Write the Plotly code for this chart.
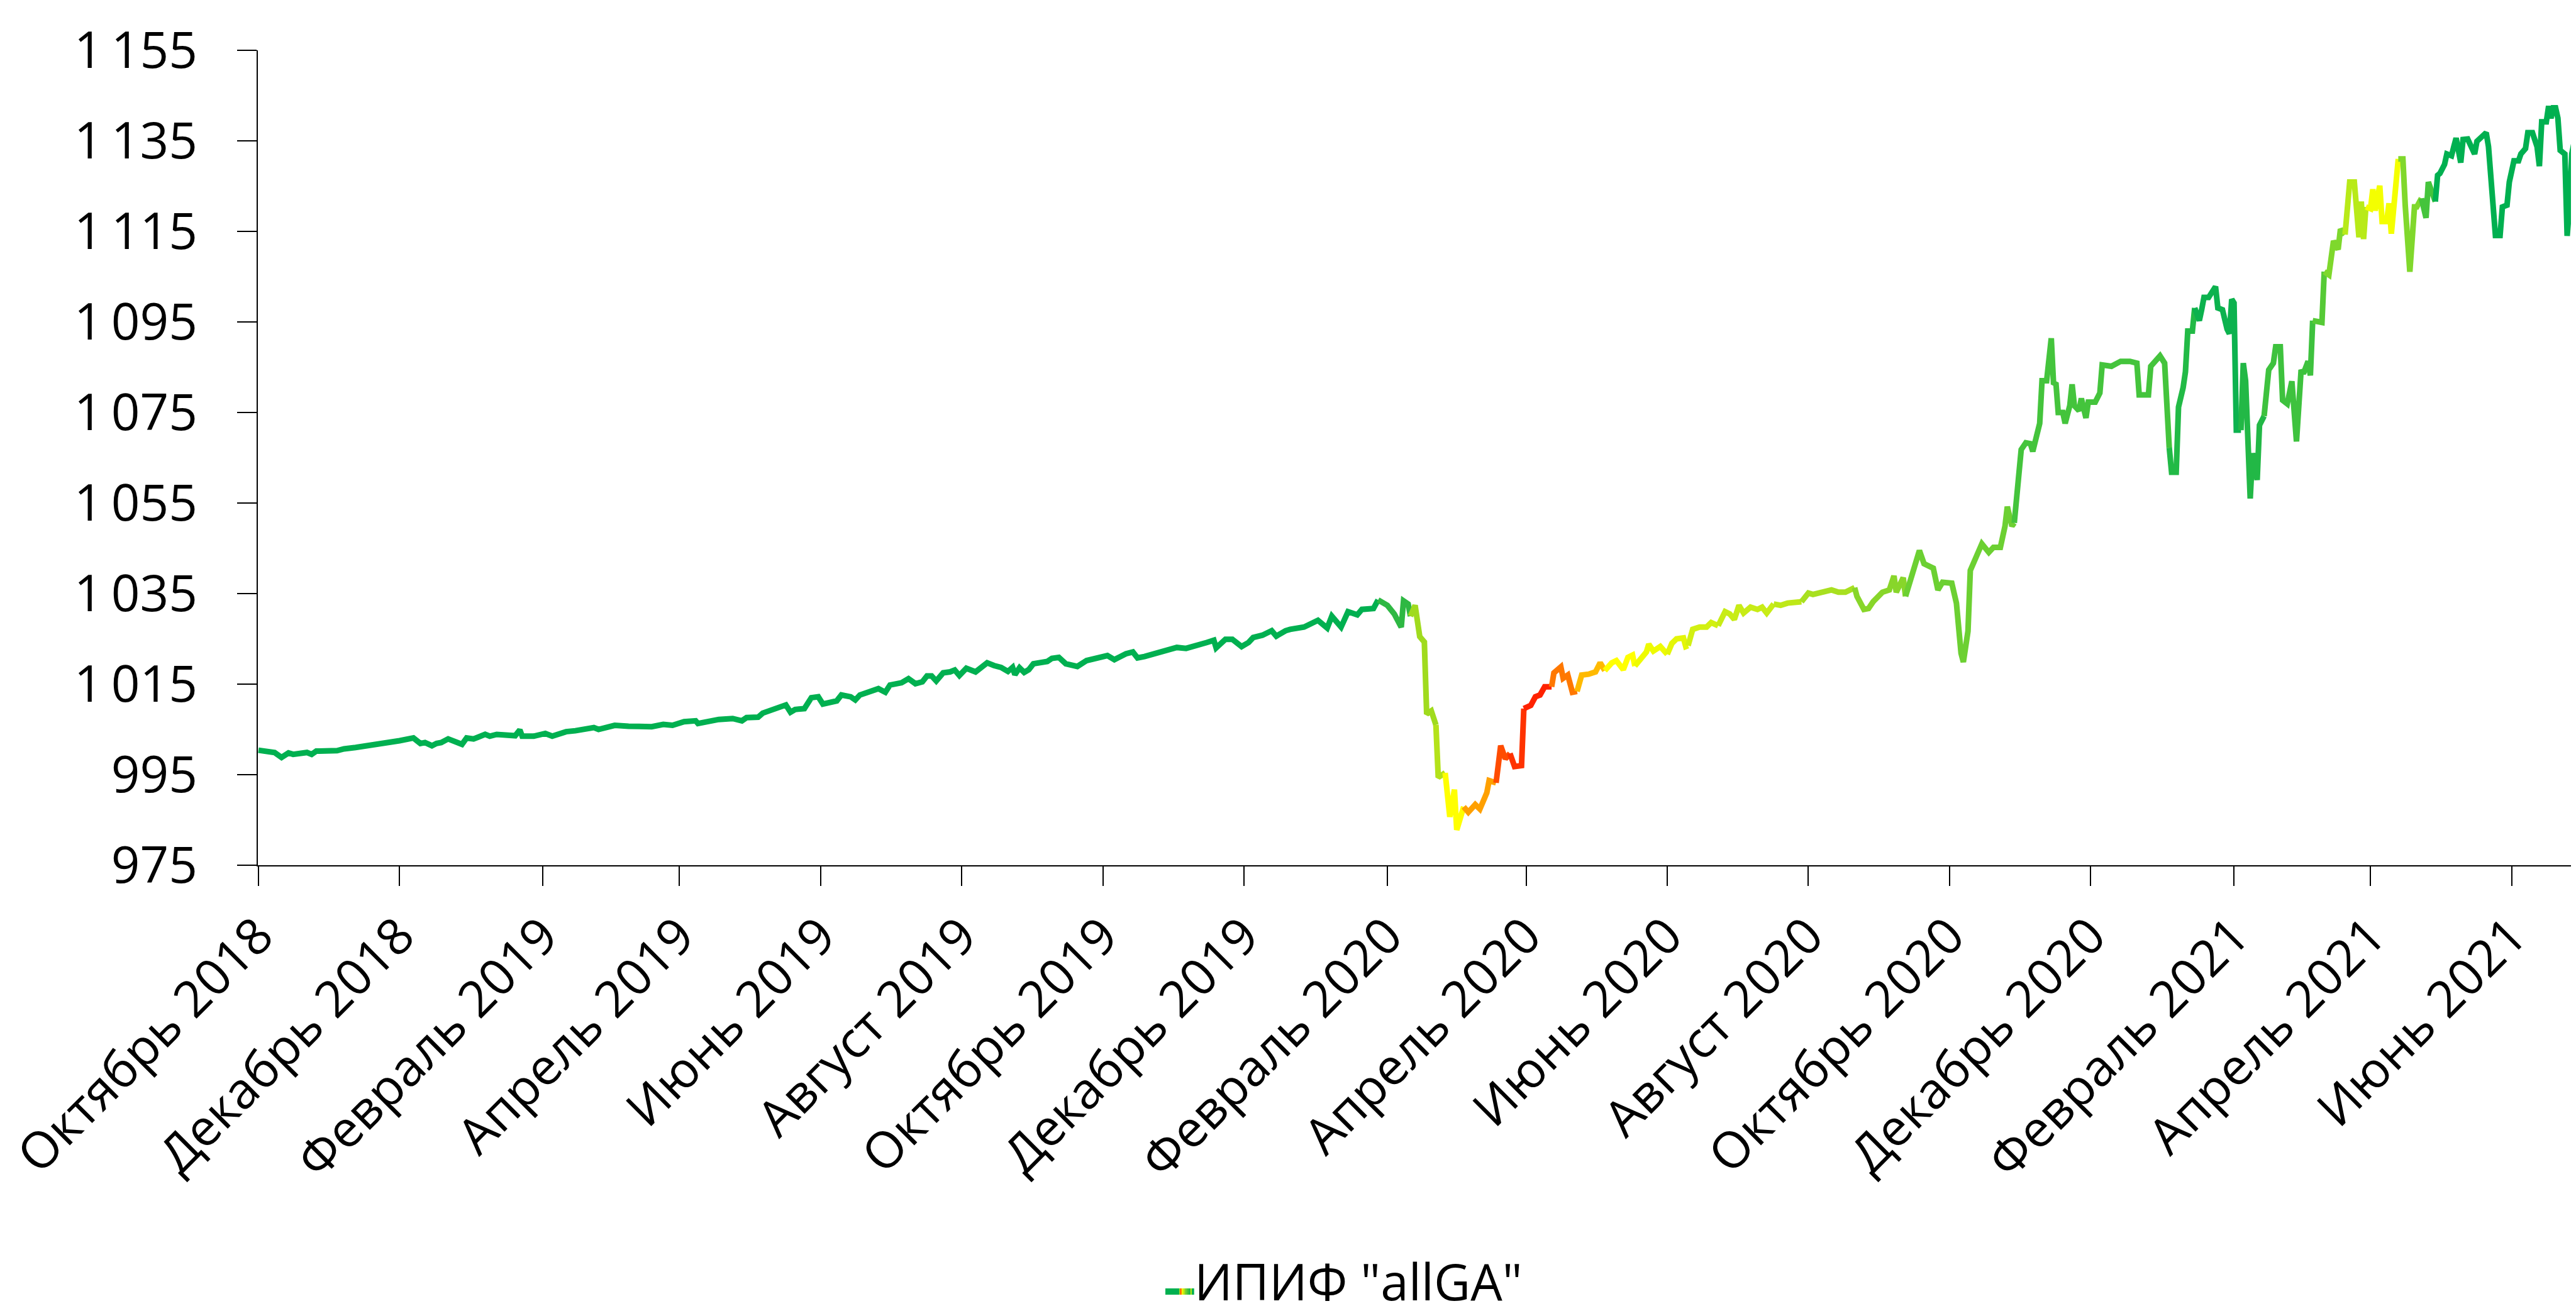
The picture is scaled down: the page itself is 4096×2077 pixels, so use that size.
import plotly.graph_objects as go
import pandas as pd

# ---------------- data ----------------
start_date = "2018-10-01"
day_offsets = [
    0, 7, 10, 13, 15, 21, 23, 25, 34, 37, 42, 50, 55, 61, 67, 70, 72, 75, 77, 79, 82, 85, 88, 90, 93, 98, 100,
    103, 109, 111, 113, 114, 119, 124, 127, 133, 137, 141, 145, 147, 154, 160, 166, 170, 175, 179, 184, 189, 190,
    195, 199, 205, 209, 211, 216, 218, 220,
    222, 226, 228, 230, 232, 236, 239, 242, 244, 250, 252, 256, 258, 260, 264, 268, 271, 273, 278, 281, 284, 287,
    289, 291, 293, 296, 299, 301, 303, 306, 310, 313, 315, 318, 321, 324, 326, 327, 329, 331, 333, 335, 341, 343,
    346, 349, 352, 354, 358, 362, 367, 370, 375, 378, 380, 383, 387, 392, 397, 401, 406, 410, 413, 414, 418, 421,
    425, 428, 430, 434, 438, 440, 444,
    446, 452, 458, 462, 464, 468, 471, 475, 477, 482, 484, 488, 491, 494, 495, 497, 498, 500, 502, 504, 505, 507,
    509, 510, 513, 515, 517, 518, 521, 523, 526, 528, 531, 532, 535, 537, 539, 541, 543, 546, 547, 550, 552, 554,
    556, 559, 560, 563, 564, 566, 568, 570, 572, 575, 578, 580, 582, 585, 587, 590, 592, 594, 595, 597, 600, 601,
    603, 606, 609, 611, 613, 616, 617, 618, 620, 623, 626, 628, 631, 634, 636, 638, 640, 642, 645, 648, 650, 652,
    655, 658, 661, 664, 667, 670, 672, 677, 680, 683, 686, 690, 691, 694, 696, 698, 700, 702, 705, 707, 708, 711,
    712, 715, 718, 720, 724, 726, 728, 732, 734, 736, 737, 739, 740,
    745, 748, 750, 753, 755, 756, 758, 759, 761, 762, 764, 766, 767, 770, 771, 773, 775, 776, 777, 778, 780, 781,
    783, 784, 785, 787, 788, 790, 791, 794, 796, 797, 801, 805, 809, 812, 813, 817, 818, 820, 822, 824, 826, 827,
    829, 830, 832, 833, 834, 836, 837, 839, 840, 841, 843, 845, 846, 847, 849, 851, 852, 853, 854, 855, 857, 858,
    859, 861, 862, 864, 865, 867, 869, 871, 872, 874, 875, 877, 879, 881, 883, 884, 886, 887, 888, 892, 893, 895,
    897, 899, 900, 902, 904, 906, 908, 909, 910, 911, 913, 914, 915, 917, 918, 920, 921, 922, 923, 925, 927, 928,
    930, 932, 933, 935, 937, 938, 941, 942, 943, 945, 946, 948, 949, 950, 952, 953, 955, 958, 959, 961, 963, 964,
    965, 967, 969, 970, 972, 973, 975, 977, 978, 980, 981, 983, 985, 986, 987, 989, 990, 991, 992, 993, 994, 995,
    997, 998, 999, 1000, 1002, 1004,
]
nav_values = [
    1000.4, 999.9, 998.8, 999.8, 999.5, 999.9, 999.5, 1000.2, 1000.3, 1000.7, 1001.0, 1001.5, 1002.1, 1002.5,
    1003.1, 1001.9, 1002.1, 1001.4, 1001.9, 1002.1, 1002.9, 1002.3, 1001.7, 1003.1, 1002.9, 1003.9, 1003.5,
    1003.9, 1003.9, 1003.6, 1004.9, 1003.5, 1003.5, 1004.1, 1003.5, 1004.5, 1004.7, 1005.0, 1005.4, 1005.0,
    1005.9, 1005.7, 1005.7, 1005.6, 1006.1, 1005.9, 1006.7, 1006.9, 1006.3, 1006.9, 1007.2, 1007.4, 1006.9,
    1007.6, 1007.7, 1008.6, 1009.0,
    1009.2, 1010.2, 1010.4, 1008.8, 1009.4, 1009.6, 1012.0, 1012.2, 1010.6, 1011.3, 1012.6, 1012.2, 1011.5,
    1012.6, 1013.4, 1014.0, 1013.2, 1014.8, 1015.3, 1016.2, 1015.1, 1015.5, 1016.8, 1016.8, 1015.7, 1017.5,
    1017.7, 1018.1, 1016.9, 1018.5, 1017.7, 1018.7, 1019.7, 1019.1, 1018.7, 1017.8, 1018.7, 1017.1, 1018.6,
    1017.6, 1018.2, 1019.5, 1020.0, 1020.7, 1020.9, 1019.5, 1019.3, 1018.9, 1020.2, 1020.7, 1021.3, 1020.4,
    1021.7, 1022.1, 1020.8, 1021.1, 1021.7, 1022.4, 1023.1, 1022.9, 1023.8, 1024.2, 1024.7, 1023.0, 1024.9,
    1024.9, 1023.3, 1024.2, 1025.3, 1025.8, 1026.8, 1025.6, 1026.8,
    1027.1, 1027.6, 1029.1, 1027.4, 1030.0, 1027.6, 1031.0, 1030.3, 1031.5, 1031.7, 1033.6, 1032.4, 1030.5,
    1027.6, 1033.4, 1032.7, 1030.0, 1032.4, 1025.5, 1024.3, 1008.4, 1009.1, 1006.0, 994.4, 995.4, 985.7, 991.7,
    982.8, 987.9, 986.7, 988.4, 987.4, 991.0, 993.7, 993.2, 1001.4, 998.5, 999.7, 996.8, 997.0, 1009.6, 1010.3,
    1012.2, 1012.6, 1014.4, 1014.4, 1017.5, 1018.8, 1016.3, 1017.0, 1013.2, 1013.4, 1017.0, 1017.2, 1017.7,
    1019.7, 1018.0, 1019.7, 1020.2, 1018.2, 1020.9, 1021.4, 1019.0, 1020.2, 1022.1, 1023.8, 1022.3, 1023.3,
    1021.6, 1024.0, 1025.0, 1025.2, 1023.3, 1023.5, 1027.1, 1027.6, 1027.6, 1028.6, 1027.9, 1031.0, 1030.5,
    1029.3, 1032.4, 1030.7, 1032.0, 1031.5, 1032.0, 1030.7, 1032.7, 1032.4, 1032.9, 1032.9, 1033.2, 1035.1,
    1034.8, 1035.3, 1035.8, 1035.3, 1035.3, 1036.3, 1034.4, 1031.5, 1031.7, 1033.2, 1034.4, 1035.3, 1035.8,
    1038.9, 1035.3, 1038.5, 1034.4, 1039.3, 1044.5, 1041.6, 1040.6, 1035.8, 1037.5, 1037.3, 1032.9, 1021.8,
    1019.9, 1026.7, 1040.1,
    1046.0, 1044.1, 1045.2, 1045.2, 1049.9, 1054.2, 1049.9, 1050.6, 1063.2, 1066.8, 1068.3, 1068.1, 1066.4,
    1072.6, 1082.0, 1082.0, 1091.4, 1081.2, 1081.6, 1075.0, 1075.0, 1072.6, 1076.5, 1081.2, 1076.5, 1075.4,
    1078.1, 1073.8, 1077.3, 1077.3, 1079.3, 1085.5, 1085.2, 1086.3, 1086.3, 1085.9, 1078.9, 1078.9, 1085.2,
    1086.3, 1087.5, 1085.9, 1067.2, 1061.8, 1061.8, 1076.2, 1080.5, 1084.0, 1093.0, 1093.0, 1098.1, 1095.3,
    1097.7, 1100.4, 1100.4, 1102.4, 1102.8, 1098.1, 1097.7, 1093.4, 1092.4, 1100.0, 1099.2, 1071.1, 1071.1,
    1085.9, 1082.0, 1056.0, 1066.0, 1060.1, 1072.2, 1074.2, 1084.4, 1085.9, 1089.5, 1089.5, 1077.7, 1076.9,
    1081.9, 1068.6, 1084.4, 1083.6, 1086.3, 1083.2, 1095.3, 1094.9, 1106.1, 1105.4, 1112.9, 1111.0, 1115.5,
    1114.3, 1125.9, 1125.9, 1113.7, 1121.6, 1113.3, 1120.4, 1120.0, 1124.3, 1119.6, 1125.1, 1117.2, 1117.2,
    1121.2, 1114.5, 1121.2, 1131.0, 1131.0, 1120.8, 1106.1, 1120.4, 1120.4, 1122.3, 1118.0, 1125.9, 1121.6,
    1127.4, 1127.8, 1129.8, 1132.1, 1131.7, 1133.7, 1135.6, 1130.2, 1135.3, 1135.4, 1132.1, 1134.9, 1136.0,
    1136.8, 1133.7, 1125.9, 1114.1, 1114.1, 1120.4, 1120.8, 1125.9, 1130.6, 1130.6, 1132.1, 1133.3, 1136.8,
    1136.8, 1133.7, 1129.4, 1139.2, 1139.2, 1142.7, 1140.0, 1142.3, 1142.3, 1140.0, 1132.9, 1132.1, 1114.0,
    1120.4, 1132.1, 1137.2, 1139.2,
]

series_name = 'ИПИФ "allGA"'

x_tick_dates = [
    "2018-10-01", "2018-12-01", "2019-02-01", "2019-04-01", "2019-06-01", "2019-08-01", "2019-10-01",
    "2019-12-01", "2020-02-01", "2020-04-01", "2020-06-01", "2020-08-01", "2020-10-01", "2020-12-01",
    "2021-02-01", "2021-04-01", "2021-06-01",
]
x_tick_labels = [
    "Октябрь 2018", "Декабрь 2018", "Февраль 2019", "Апрель 2019", "Июнь 2019", "Август 2019",
    "Октябрь 2019", "Декабрь 2019", "Февраль 2020", "Апрель 2020", "Июнь 2020", "Август 2020",
    "Октябрь 2020", "Декабрь 2020", "Февраль 2021", "Апрель 2021", "Июнь 2021",
]
y_tick_values = [975, 995, 1015, 1035, 1055, 1075, 1095, 1115, 1135, 1155]
y_tick_labels = ["975", "995", "1\u2009015", "1\u2009035", "1\u2009055", "1\u2009075", "1\u2009095",
                 "1\u2009115", "1\u2009135", "1\u2009155"]

# ---------------- style: colour bands of the gradient line (start day, colour) ----------------
color_bands = [
    (0, "#00B050"), (484, "#2EB843"), (498, "#A0DB1E"), (509, "#B4E21A"), (514, "#FFFF00"),
    (522, "#FFA000"), (534, "#FF4C00"), (541, "#FF3300"), (547, "#FF2200"), (558, "#FF7800"),
    (570, "#FFBA00"), (582, "#FFFF00"), (596, "#EEFB00"), (610, "#E4F608"), (619, "#D2F012"),
    (632, "#C8EC16"), (655, "#BEE818"), (668, "#A8E020"), (690, "#88D62A"), (713, "#6CD032"),
    (760, "#44C43C"), (826, "#22BA46"), (838, "#0CB24E"), (857, "#22B846"), (868, "#3EC23E"),
    (889, "#56CA36"), (893, "#7ED82C"), (903, "#B8EA18"), (912, "#F4FF00"), (925, "#80D82C"),
    (935, "#44C43C"), (941, "#00B050"),
]

W, H = 4096, 2077
ML, MR, MT, MB = 402, 0, 72, 709
FONT = "Open Sans"
FS = 80
LINE_W = 9

dates = pd.Timestamp(start_date) + pd.to_timedelta(day_offsets, unit="D")


def band_color(day):
    c = color_bands[0][1]
    for d0, col in color_bands:
        if day >= d0:
            c = col
    return c


# group consecutive segments of identical colour into one trace
seg_colors = [band_color((day_offsets[i] + day_offsets[i + 1]) / 2) for i in range(len(day_offsets) - 1)]
runs = []
i0 = 0
for i in range(1, len(seg_colors) + 1):
    if i == len(seg_colors) or seg_colors[i] != seg_colors[i0]:
        runs.append((i0, i, seg_colors[i0]))
        i0 = i

fig = go.Figure()
for a, b, col in runs:
    fig.add_trace(go.Scatter(
        x=dates[a:b + 1], y=nav_values[a:b + 1], mode="lines",
        line=dict(color=col, width=LINE_W), showlegend=False, hoverinfo="skip",
    ))

# legend entry (its own swatch is hidden; a gradient swatch is drawn next to the text)
fig.add_trace(go.Scatter(
    x=[None], y=[None], mode="lines", name=series_name,
    line=dict(color="rgba(0,0,0,0)", width=1), showlegend=True,
))

# gradient legend swatch, built from the colour bands
pw, ph = W - ML - MR, H - MT - MB
sw_x0, sw_x1, sw_yc, sw_th = 1845, 1890, 2046, 10
total_days = day_offsets[-1]
shapes = []
for k, (d0, col) in enumerate(color_bands):
    d1 = color_bands[k + 1][0] if k + 1 < len(color_bands) else total_days
    px0 = sw_x0 + (sw_x1 - sw_x0) * d0 / total_days
    px1 = sw_x0 + (sw_x1 - sw_x0) * d1 / total_days
    shapes.append(dict(
        type="rect", xref="paper", yref="paper",
        x0=(px0 - ML) / pw, x1=(px1 - ML) / pw + 0.0002,
        y0=(H - MB - (sw_yc + sw_th / 2)) / ph, y1=(H - MB - (sw_yc - sw_th / 2)) / ph,
        fillcolor=col, line=dict(width=0), layer="above",
    ))

fig.update_layout(
    width=W, height=H,
    margin=dict(l=ML, r=MR, t=MT, b=MB, autoexpand=False),
    paper_bgcolor="white", plot_bgcolor="white",
    font=dict(family=FONT, size=FS, color="black"),
    showlegend=True,
    shapes=shapes,
    legend=dict(
        orientation="h", xref="container", yref="container",
        x=1851 / W, xanchor="left", y=0.0232, yanchor="middle",
        font=dict(family=FONT, size=FS, color="black"),
        bgcolor="rgba(0,0,0,0)", itemwidth=30,
    ),
    xaxis=dict(
        type="date", range=["2018-09-30 18:00", "2021-07-01"],
        tickmode="array", tickvals=x_tick_dates, ticktext=x_tick_labels,
        tickangle=-45, ticks="outside", ticklen=31, tickwidth=2, tickcolor="black",
        showline=True, linecolor="black", linewidth=2,
        showgrid=False, zeroline=False, ticklabeloverflow="allow",
        tickfont=dict(family=FONT, size=FS, color="black"),
    ),
    yaxis=dict(
        range=[975, 1155], tickmode="array", tickvals=y_tick_values, ticktext=y_tick_labels,
        ticks="outside", ticklen=31, tickwidth=2, tickcolor="black",
        showline=True, linecolor="black", linewidth=2,
        showgrid=False, zeroline=False, ticklabelstandoff=47,
        tickfont=dict(family=FONT, size=FS, color="black"),
    ),
)

fig.write_html("out.html")
